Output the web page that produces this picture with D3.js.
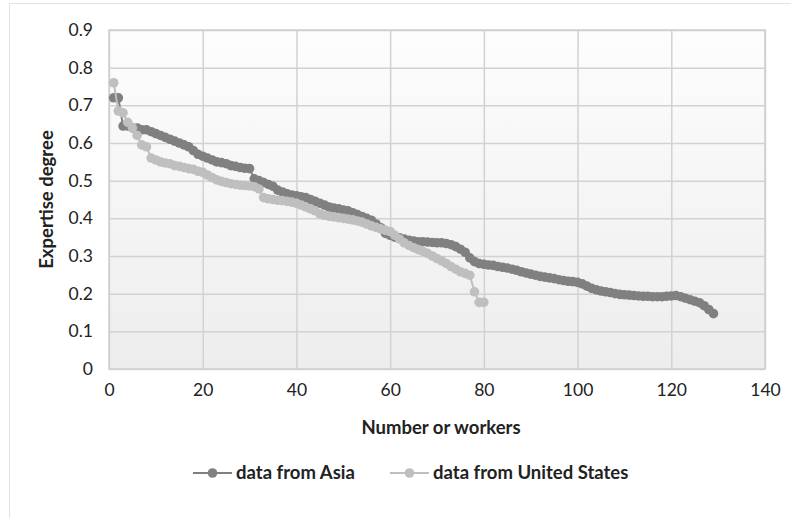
<!DOCTYPE html>
<html>
<head>
<meta charset="utf-8">
<script src="https://cdn.jsdelivr.net/npm/d3@7/dist/d3.min.js"></script>
<style>
  body { margin: 0; background: #fff; }
  text { font-family: Lato, "Open Sans", sans-serif; fill: #222; }
</style>
</head>
<body>
<div id="chart"></div>
<script>
// expertise values, worker index = position + 1
const asiaValues = [
  0.72, 0.72, 0.645, 0.645, 0.64, 0.64, 0.635, 0.635, 0.63, 0.625,
  0.62, 0.615, 0.61, 0.605, 0.6, 0.595, 0.59, 0.58, 0.57, 0.565,
  0.56, 0.555, 0.55, 0.548, 0.545, 0.54, 0.538, 0.535, 0.533, 0.532,
  0.505, 0.5, 0.495, 0.49, 0.485, 0.475, 0.47, 0.465, 0.462, 0.46,
  0.457, 0.455, 0.45, 0.445, 0.44, 0.435, 0.43, 0.427, 0.425, 0.422,
  0.42, 0.415, 0.41, 0.405, 0.4, 0.395, 0.385, 0.375, 0.36, 0.355,
  0.35, 0.348, 0.345, 0.342, 0.34, 0.338, 0.338, 0.337, 0.336, 0.335,
  0.335, 0.333, 0.33, 0.325, 0.318, 0.31, 0.295, 0.285, 0.28, 0.278,
  0.276, 0.275, 0.272, 0.27, 0.268, 0.265, 0.262, 0.258, 0.255, 0.252,
  0.249, 0.246, 0.244, 0.242, 0.24, 0.237, 0.235, 0.233, 0.232, 0.23,
  0.226, 0.22, 0.214, 0.21, 0.207, 0.205, 0.203, 0.2, 0.198, 0.197,
  0.196, 0.195, 0.194, 0.193, 0.193, 0.192, 0.192, 0.192, 0.193, 0.194,
  0.195, 0.192, 0.188, 0.184, 0.18, 0.176, 0.168, 0.158, 0.147
];
const usValues = [
  0.76, 0.685, 0.68, 0.655, 0.64, 0.62, 0.595, 0.59, 0.56, 0.555,
  0.55, 0.547, 0.545, 0.54, 0.538, 0.535, 0.532, 0.53, 0.525, 0.522,
  0.515, 0.508, 0.502, 0.498, 0.495, 0.492, 0.49, 0.488, 0.487, 0.486,
  0.484, 0.478, 0.455, 0.452, 0.45, 0.448, 0.447, 0.445, 0.443, 0.44,
  0.435, 0.43, 0.425, 0.42, 0.412, 0.408, 0.405, 0.404, 0.402, 0.4,
  0.398, 0.396, 0.393, 0.39, 0.385, 0.38, 0.376, 0.372, 0.368, 0.365,
  0.355, 0.345, 0.335, 0.328, 0.322, 0.317, 0.312, 0.307, 0.3, 0.293,
  0.287, 0.28, 0.272, 0.265, 0.258, 0.254, 0.249, 0.205, 0.177, 0.177
];
const seriesNames = ["data from Asia", "data from United States"];
const seriesColors = ["#808080", "#bfbfbf"];
const xTicks = [0, 20, 40, 60, 80, 100, 120, 140];
const yTicks = [0, 0.1, 0.2, 0.3, 0.4, 0.5, 0.6, 0.7, 0.8, 0.9];

const W = 791, H = 518;
const margin = { top: 30, right: 26, bottom: 149, left: 109 };
const width = W - margin.left - margin.right;
const height = H - margin.top - margin.bottom;

const root = d3.select("#chart").append("svg")
  .attr("width", W).attr("height", H);

// outer chart border (faint)
root.append("rect")
  .attr("x", 9.5).attr("y", 3.5)
  .attr("width", W).attr("height", H)
  .attr("fill", "none").attr("stroke", "#e3e3e3");

const defs = root.append("defs");
const grad = defs.append("linearGradient").attr("id", "plotbg")
  .attr("x1", 0).attr("y1", 0).attr("x2", 0).attr("y2", 1);
grad.append("stop").attr("offset", "0%").attr("stop-color", "#fdfdfd");
grad.append("stop").attr("offset", "100%").attr("stop-color", "#ededed");

const svg = root.append("g")
  .attr("transform", `translate(${margin.left},${margin.top})`);

const x = d3.scaleLinear().domain([0, 140]).range([0, width]);
const y = d3.scaleLinear().domain([0, 0.9]).range([height, 0]);

svg.append("rect")
  .attr("width", width).attr("height", height)
  .attr("fill", "url(#plotbg)");

// gridlines
svg.append("g")
  .call(d3.axisLeft(y).tickValues(yTicks).tickSize(-width).tickFormat(""))
  .call(g => g.select(".domain").remove())
  .selectAll("line").attr("stroke", "#d2d2d2").attr("stroke-width", 1.5);
svg.append("g")
  .attr("transform", `translate(0,${height})`)
  .call(d3.axisBottom(x).tickValues(xTicks).tickSize(-height).tickFormat(""))
  .call(g => g.select(".domain").remove())
  .selectAll("line").attr("stroke", "#d2d2d2").attr("stroke-width", 1.5);

svg.append("rect")
  .attr("width", width).attr("height", height)
  .attr("fill", "none").attr("stroke", "#cfcfcf").attr("stroke-width", 1.5);

// tick labels
const yAxis = svg.append("g")
  .call(d3.axisLeft(y).tickValues(yTicks).tickSize(0).tickPadding(16)
    .tickFormat(d => d === 0 ? "0" : d3.format(".1f")(d)));
yAxis.select(".domain").remove();
yAxis.selectAll("text").style("font-size", "17.5px").attr("fill", "#333");

const xAxis = svg.append("g")
  .attr("transform", `translate(0,${height})`)
  .call(d3.axisBottom(x).tickValues(xTicks).tickSize(0).tickPadding(15));
xAxis.select(".domain").remove();
xAxis.selectAll("text").style("font-size", "17.5px").attr("fill", "#333");

// series
const series = [asiaValues, usValues];
const line = d3.line().x((d, i) => x(i + 1)).y(d => y(d));
series.forEach((vals, s) => {
  svg.append("path").datum(vals)
    .attr("d", line).attr("fill", "none")
    .attr("stroke", seriesColors[s]).attr("stroke-width", 2);
  svg.append("g").selectAll("circle").data(vals).enter()
    .append("circle")
    .attr("cx", (d, i) => x(i + 1)).attr("cy", d => y(d))
    .attr("r", 4.8).attr("fill", seriesColors[s]);
});

// axis titles
root.append("text")
  .attr("x", 441).attr("y", 434)
  .attr("text-anchor", "middle")
  .style("font-size", "18.5px").style("font-weight", "bold")
  .text("Number or workers");

root.append("text")
  .attr("transform", `translate(53,${margin.top + height / 2}) rotate(-90)`)
  .attr("text-anchor", "middle")
  .style("font-size", "18.5px").style("font-weight", "bold")
  .text("Expertise degree");

// legend
const legendX = [193, 390];
const legend = root.selectAll(".legend").data(seriesNames).enter()
  .append("g").attr("class", "legend")
  .attr("transform", (d, i) => `translate(${legendX[i]},473)`);
legend.append("line")
  .attr("x1", 0).attr("x2", 39)
  .attr("stroke", (d, i) => seriesColors[i]).attr("stroke-width", 2);
legend.append("circle")
  .attr("cx", 19.5).attr("r", 4.8)
  .attr("fill", (d, i) => seriesColors[i]);
legend.append("text")
  .attr("x", 43).attr("dy", "0.35em")
  .style("font-size", "18.5px").style("font-weight", "bold")
  .text(d => d);
</script>
</body>
</html>
